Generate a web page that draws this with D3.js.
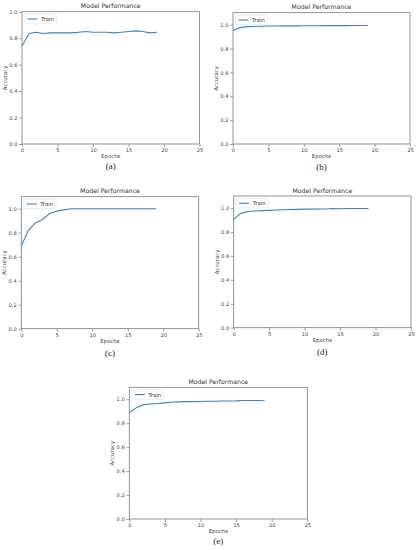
<!DOCTYPE html>
<html><head><meta charset="utf-8">
<script src="https://cdn.jsdelivr.net/npm/d3@7"></script>
<style>html,body{margin:0;padding:0;background:#fff;}</style>
</head><body>
<svg id="c" width="417" height="550"></svg>
<script>
const epochs = d3.range(0, 20);
const accA = [0.74,0.835,0.845,0.835,0.84,0.84,0.84,0.84,0.845,0.85,0.845,0.845,0.845,0.84,0.845,0.85,0.855,0.85,0.84,0.845];
const accB = [0.95,0.975,0.983,0.985,0.987,0.988,0.989,0.99,0.99,0.99,0.991,0.991,0.991,0.992,0.992,0.992,0.992,0.993,0.993,0.993];
const accC = [0.689,0.82,0.883,0.91,0.96,0.98,0.99,1.0,1.0,1.0,1.0,1.0,1.0,1.0,1.0,1.0,1.0,1.0,1.0,1.0];
const accD = [0.905,0.955,0.97,0.975,0.978,0.98,0.983,0.985,0.987,0.988,0.99,0.99,0.991,0.992,0.995,0.993,0.995,0.995,0.995,0.996];
const accE = [0.89,0.93,0.955,0.96,0.965,0.97,0.975,0.978,0.98,0.98,0.982,0.983,0.984,0.985,0.986,0.987,0.99,0.99,0.99,0.988];
const xTicks = [0,5,10,15,20,25];
const yTicks = [0,0.2,0.4,0.6,0.8,1.0];
const captions = ["(a)","(b)","(c)","(d)","(e)"];
const titleText = "Model Performance";
const legendText = "Train";

const panels = [
  {data:accA, yMax:1.0, L:22, R:199.5, T:11.7, B:144, cap:21.7},
  {data:accB, yMax:1.1, L:233, R:410, T:12.7, B:144, cap:22.7},
  {data:accC, yMax:1.1, L:21.3, R:198.7, T:196.7, B:328.7, cap:24},
  {data:accD, yMax:1.1, L:233.7, R:411, T:196, B:327.7, cap:24.6},
  {data:accE, yMax:1.1, L:129.3, R:307.3, T:387.3, B:519, cap:21.7}
];
const svg = d3.select("#c");
const blue = "#3386c9";
const font = "DejaVu Sans";
panels.forEach((p,i)=>{
  const x = d3.scaleLinear().domain([0,25]).range([p.L,p.R]);
  const y = d3.scaleLinear().domain([0,p.yMax]).range([p.B,p.T]);
  const g = svg.append("g");
  const xa = g.append("g").attr("transform",`translate(0,${p.B})`)
    .call(d3.axisBottom(x).tickValues(xTicks).tickFormat(d3.format("d")).tickSize(3).tickPadding(1.5));
  const ya = g.append("g").attr("transform",`translate(${p.L},0)`)
    .call(d3.axisLeft(y).tickValues(yTicks).tickFormat(d3.format(".1f")).tickSize(3).tickPadding(1.5));
  [xa,ya].forEach(a=>{
    a.select(".domain").remove();
    a.selectAll("line").attr("stroke","#777").attr("stroke-width",0.7);
    a.selectAll("text").attr("font-family",font).attr("font-size",5.2).attr("fill","#444");
  });
  g.append("rect").attr("x",p.L).attr("y",p.T).attr("width",p.R-p.L).attr("height",p.B-p.T)
    .attr("fill","none").attr("stroke","#7a7a7a").attr("stroke-width",0.8);
  g.append("path").datum(p.data)
    .attr("d",d3.line().x((d,j)=>x(epochs[j])).y(d=>y(d)))
    .attr("fill","none").attr("stroke",blue).attr("stroke-width",1.1);
  g.append("text").attr("x",(p.L+p.R)/2).attr("y",p.T-3.5).attr("text-anchor","middle")
    .attr("font-family",font).attr("font-size",6.2).attr("fill","#333").text(titleText);
  g.append("text").attr("x",(p.L+p.R)/2).attr("y",p.B+14).attr("text-anchor","middle")
    .attr("font-family",font).attr("font-size",5.4).attr("fill","#444").text("Epochs");
  g.append("text").attr("transform",`translate(${p.L-15},${(p.T+p.B)/2}) rotate(-90)`)
    .attr("text-anchor","middle").attr("font-family",font).attr("font-size",5.4).attr("fill","#444").text("Accuracy");
  g.append("text").attr("x",(p.L+p.R)/2).attr("y",p.B+p.cap+3).attr("text-anchor","middle")
    .attr("font-family","Liberation Serif, DejaVu Serif, serif").attr("font-size",9).attr("fill","#222").text(captions[i]);
  // legend
  const lx = p.L+2.5, ly = p.T+2.5;
  g.append("rect").attr("x",lx).attr("y",ly).attr("width",32).attr("height",9.5).attr("rx",1.5)
    .attr("fill","#fff").attr("stroke","#ddd").attr("stroke-width",0.6);
  g.append("line").attr("x1",lx+3).attr("x2",lx+13).attr("y1",ly+4.8).attr("y2",ly+4.8)
    .attr("stroke",blue).attr("stroke-width",1.1);
  g.append("text").attr("x",lx+16.5).attr("y",ly+6.7).attr("font-family",font).attr("font-size",5.4)
    .attr("fill","#333").text(legendText);
});
</script>
</body></html>
